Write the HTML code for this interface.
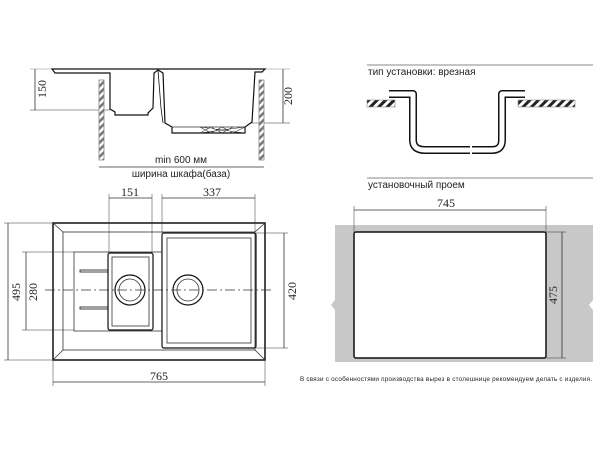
<!DOCTYPE html>
<html><head><meta charset="utf-8"><style>
html,body{margin:0;padding:0;background:#fff;width:600px;height:450px;overflow:hidden}
svg{display:block}
.s{font-family:"Liberation Sans","DejaVu Sans",sans-serif}
.r{font-family:"Liberation Serif",serif}
</style></head><body>
<svg width="600" height="450" viewBox="0 0 600 450" xmlns="http://www.w3.org/2000/svg">
<defs>
<pattern id="h" width="5" height="5" patternUnits="userSpaceOnUse" patternTransform="rotate(45)">
<rect width="5" height="5" fill="#fff"/><rect width="2.5" height="5" fill="#777"/>
</pattern>
<pattern id="h2" width="6" height="6" patternUnits="userSpaceOnUse" patternTransform="rotate(45)">
<rect width="6" height="6" fill="#fff"/><rect width="3" height="6" fill="#222"/>
</pattern>
</defs>
<g fill="none" stroke="#333" stroke-width="0.8">
<line x1="30" y1="69" x2="290" y2="69" stroke="#888" stroke-width="0.6"/>
<line x1="35" y1="69" x2="35" y2="110"/>
<line x1="30" y1="110" x2="110" y2="110" stroke-width="0.6"/>
<line x1="283" y1="69" x2="283" y2="123"/>
<line x1="250" y1="123" x2="290" y2="123" stroke-width="0.6"/>
<rect x="99" y="80" width="5" height="80" fill="url(#h)" stroke="#888"/>
<rect x="259" y="80" width="5" height="80" fill="url(#h)" stroke="#888"/>
<path d="M52 69 L265 69 L262 72 L255 72 L252 122 L245 127 L245 133 L172 133 L172 127 L165 123 L163 73 L158 70 L154 73 L153 108 L148 113 L148 115 L115 115 L115 112 L110 109 L110 73 L55 73 Z" stroke="#111" stroke-width="1.2"/>
<path d="M158 70 L161 108 L163 123" stroke="#111"/>
<line x1="172" y1="127" x2="245" y2="127"/>
<path d="M200 127 L245 133 M200 133 L245 127 M200 127 L211 133 L222 127 L233 133 L245 127 M200 133 L211 127 L222 133 L233 127" stroke-width="0.6"/>
<line x1="99" y1="167" x2="264" y2="167"/>
<rect x="53" y="223" width="212" height="137" stroke="#111" stroke-width="1.5"/>
<rect x="63" y="232" width="192" height="118"/>
<path d="M53 223 L63 232 M265 223 L255 232 M53 360 L63 350 M265 360 L255 350"/>
<rect x="74" y="252" width="88" height="79"/>
<rect x="108" y="253" width="45" height="77" stroke="#111" stroke-width="1.2" rx="2"/>
<rect x="112" y="257" width="37" height="69"/>
<rect x="162" y="233" width="94" height="115" stroke="#111" stroke-width="1.2" rx="2"/>
<rect x="167" y="238" width="84" height="105"/>
<circle cx="130" cy="290" r="15" stroke="#111" stroke-width="1.2"/>
<circle cx="130" cy="290" r="11"/>
<circle cx="188" cy="290" r="15" stroke="#111" stroke-width="1.2"/>
<circle cx="188" cy="290" r="11"/>
<rect x="80" y="270" width="28" height="2" stroke="#111"/>
<rect x="80" y="307" width="28" height="2" stroke="#111"/>
<line x1="45" y1="290" x2="272" y2="290" stroke-dasharray="10 3 2 3" stroke-width="0.7"/>
<line x1="109" y1="198" x2="152" y2="198"/><line x1="109" y1="194" x2="109" y2="253" stroke-width="0.5"/><line x1="152" y1="194" x2="152" y2="253" stroke-width="0.5"/>
<line x1="162" y1="198" x2="255" y2="198"/><line x1="162" y1="194" x2="162" y2="233" stroke-width="0.5"/><line x1="255" y1="194" x2="255" y2="233" stroke-width="0.5"/>
<line x1="8" y1="223" x2="8" y2="360"/><line x1="4" y1="223" x2="53" y2="223" stroke-width="0.5"/><line x1="4" y1="360" x2="53" y2="360" stroke-width="0.5"/>
<line x1="26" y1="252" x2="26" y2="330"/><line x1="22" y1="252" x2="74" y2="252" stroke-width="0.5"/><line x1="22" y1="330" x2="74" y2="330" stroke-width="0.5"/>
<line x1="284" y1="233" x2="284" y2="348"/><line x1="256" y1="233" x2="288" y2="233" stroke-width="0.5"/><line x1="256" y1="348" x2="288" y2="348" stroke-width="0.5"/>
<line x1="53" y1="382" x2="265" y2="382"/><line x1="53" y1="360" x2="53" y2="386" stroke-width="0.5"/><line x1="265" y1="360" x2="265" y2="386" stroke-width="0.5"/>
</g>
<line x1="367" y1="65" x2="593" y2="65" stroke="#888" stroke-width="1"/>
<line x1="367" y1="178" x2="593" y2="178" stroke="#888" stroke-width="1"/>
<rect x="367" y="100" width="28" height="7" fill="url(#h2)" stroke="#888" stroke-width="0.6"/>
<rect x="518" y="100" width="57" height="7" fill="url(#h2)" stroke="#888" stroke-width="0.6"/>
<g fill="none" stroke-linejoin="round" stroke-linecap="butt">
<path d="M389 94 L413 94 L413 140 Q413 150 425 150 L470 150" stroke="#111" stroke-width="8"/>
<path d="M389 94 L413 94 L413 140 Q413 150 425 150 L470 150" stroke="#fff" stroke-width="5"/>
<path d="M472 150 L492 150 Q502 150 502 140 L502 94 L525 94" stroke="#111" stroke-width="8"/>
<path d="M472 150 L492 150 Q502 150 502 140 L502 94 L525 94" stroke="#fff" stroke-width="5"/>
</g>
<path d="M335 225 L593 225 L593 300 L589 305 L593 310 L593 362 L335 362 L335 310 L331 305 L335 300 Z" fill="#c8c8c8"/>
<rect x="354" y="232" width="192" height="126" rx="2" fill="#fff" stroke="#111" stroke-width="1.5"/>
<g stroke="#333" stroke-width="0.8">
<line x1="354" y1="210" x2="546" y2="210"/><line x1="354" y1="206" x2="354" y2="232" stroke-width="0.5"/><line x1="546" y1="206" x2="546" y2="232" stroke-width="0.5"/>
<line x1="562" y1="232" x2="562" y2="358"/><line x1="546" y1="232" x2="566" y2="232" stroke-width="0.5"/><line x1="546" y1="358" x2="566" y2="358" stroke-width="0.5"/>
</g>
<g class="r" fill="#222" font-size="12">
<text x="46" y="89" transform="rotate(-90 46 89)" text-anchor="middle">150</text>
<text x="292" y="96" transform="rotate(-90 292 96)" text-anchor="middle">200</text>
<text x="130" y="196" text-anchor="middle">151</text>
<text x="212" y="196" text-anchor="middle">337</text>
<text x="20" y="292" transform="rotate(-90 20 292)" text-anchor="middle">495</text>
<text x="37" y="292" transform="rotate(-90 37 292)" text-anchor="middle">280</text>
<text x="296" y="291" transform="rotate(-90 296 291)" text-anchor="middle">420</text>
<text x="159" y="380" text-anchor="middle">765</text>
<text x="446" y="207" text-anchor="middle">745</text>
<text x="557" y="295" transform="rotate(-90 557 295)" text-anchor="middle">475</text>
</g>
<g class="s" fill="#222" font-size="10">
<text x="181" y="163" text-anchor="middle">min 600 мм</text>
<text x="181" y="177" text-anchor="middle">ширина шкафа(база)</text>
<text x="368" y="75">тип установки: врезная</text>
<text x="368" y="188">установочный проем</text>
</g>
<text class="s" x="300" y="381" font-size="6.3" fill="#222" textLength="292">В связи с особенностями производства вырез в столешнице рекомендуем делать с изделия.</text>
</svg>
</body></html>
